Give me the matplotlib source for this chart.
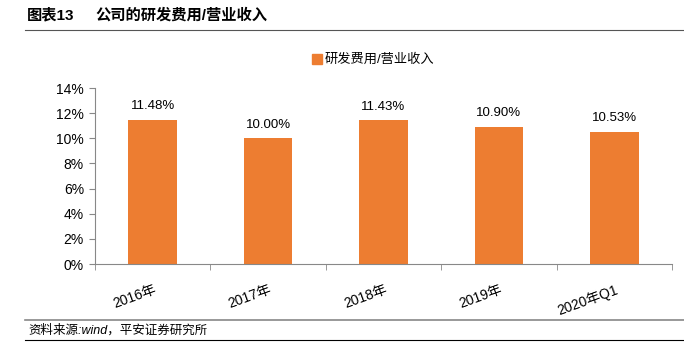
import matplotlib
matplotlib.use("Agg")
import matplotlib.pyplot as plt
from matplotlib.lines import Line2D
from matplotlib.ticker import FixedLocator, FuncFormatter

plt.rcParams['font.family'] = ['Liberation Sans', 'Noto Sans CJK SC', 'DejaVu Sans']

categories = ["2016年", "2017年", "2018年", "2019年", "2020年Q1"]
values = [11.48, 10.00, 11.43, 10.90, 10.53]
value_labels = ["11.48%", "10.00%", "11.43%", "10.90%", "10.53%"]
series_name = "研发费用/营业收入"
yticks = [0, 2, 4, 6, 8, 10, 12, 14]

color = "#ED7D31"
W, H = 684, 358
fig = plt.figure(figsize=(W / 100, H / 100), dpi=100)

ax = fig.add_axes([95 / W, 1 - 264 / H, (672 - 95) / W, (264 - 88) / H])
x = list(range(len(categories)))
ax.bar(x, values, width=0.42, color=color, zorder=2)
for xi, v, lab in zip(x, values, value_labels):
    ax.text(xi, v + 0.6, lab, ha='center', va='bottom', fontsize=9.5, color='#000000')

ax.set_xlim(-0.5, len(categories) - 0.5)
ax.set_ylim(0, 14)
ax.set_yticks(yticks)
ax.yaxis.set_major_formatter(FuncFormatter(lambda v, p: f"{int(v)}%"))
# label anchors shifted slightly right of bar centres (labels right-aligned, rotated)
label_shift = 0.045
ax.set_xticks([xi + label_shift for xi in x])
ax.set_xticklabels(categories, rotation=20, fontsize=10, ha='right', va='top')
ax.tick_params(axis='x', length=0, pad=13)
ax.xaxis.set_minor_locator(FixedLocator([i - 0.5 for i in range(len(categories) + 1)]))
ax.tick_params(axis='x', which='minor', length=4, color='#888888')
ax.tick_params(axis='y', length=4, color='#888888', labelsize=10, pad=4)
for s in ['top', 'right']:
    ax.spines[s].set_visible(False)
for s in ['left', 'bottom']:
    ax.spines[s].set_color('#888888')
    ax.spines[s].set_linewidth(0.8)

# legend
handle = Line2D([], [], marker='s', color='none', markerfacecolor=color,
                markeredgecolor=color, markersize=7)
fig.legend([handle], [series_name], loc='center', bbox_to_anchor=(372 / W, 1 - 60 / H),
           frameon=False, fontsize=9.5, handletextpad=0.1, handlelength=1.0)

# title
fig.text(27 / W, 1 - 15 / H, "图表13", fontsize=11, fontweight='bold', va='center', ha='left')
fig.text(95 / W, 1 - 15 / H, "公司的研发费用/营业收入", fontsize=11, fontweight='bold', va='center', ha='left')
fig.add_artist(Line2D([25 / W, 1.0], [1 - 30 / H, 1 - 30 / H], color='#555555', lw=0.8))

# footer
fig.add_artist(Line2D([25 / W, 1.0], [1 - 320 / H, 1 - 320 / H], color='#888888', lw=1.2))
fig.text(28 / W, 1 - 330 / H, "资料来源:wind，平安证券研究所", fontsize=9, style='italic',
         va='center', ha='left')
fig.add_artist(Line2D([25 / W, 1.0], [1 - 340 / H, 1 - 340 / H], color='#000000', lw=0.8))

fig.savefig("out.png", dpi=100)
